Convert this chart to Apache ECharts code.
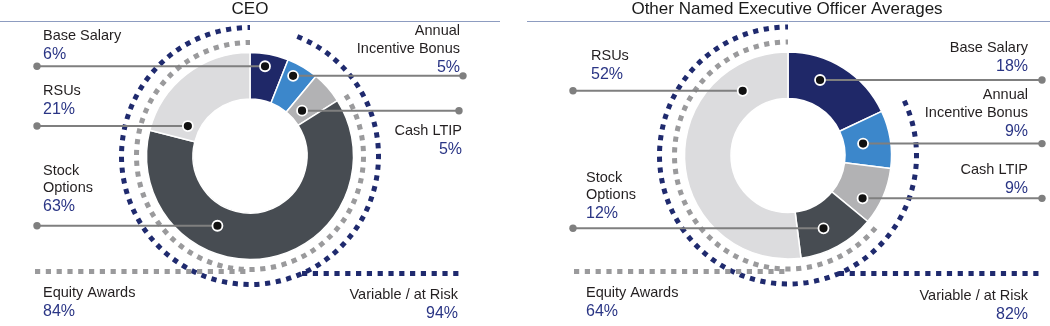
<!DOCTYPE html>
<html><head><meta charset="utf-8">
<script src="https://cdn.jsdelivr.net/npm/echarts@6/dist/echarts.min.js"></script>
<style>html,body{margin:0;padding:0;background:#fff}#c{width:1050px;height:326px}</style>
</head><body><div id="c"></div>
<script>
// ---------- DATA ----------
const panelTitles = ['CEO', 'Other Named Executive Officer Averages'];
const categories = ['Base Salary', 'Annual Incentive Bonus', 'Cash LTIP', 'Stock Options', 'RSUs'];
const categoryLabels = ['Base Salary', 'Annual\nIncentive Bonus', 'Cash LTIP', 'Stock\nOptions', 'RSUs'];
const ceoValues = [6, 5, 5, 63, 21];
const neoValues = [18, 9, 9, 12, 52];
const groupNames = ['Equity Awards', 'Variable / at Risk'];
const ceoGroupValues = [84, 94];
const neoGroupValues = [64, 82];

// ---------- STYLE / LAYOUT ----------
const sliceColors = ['#1f2868', '#3c87cb', '#b2b2b4', '#474c52', '#dcdcde'];
const NAME_COLOR = '#231f20', PCT_COLOR = '#2a3585';
const DASH_BLUE = '#1f2a6e', DASH_GRAY = '#9a9a9c', LINE_GRAY = '#7f7f7f';
const FONT = '"Liberation Sans", Arial, sans-serif';
const R_IN = 57, R_OUT = 103.5, R_GRAY = 113.5, R_BLUE = 128.5;
const NAME_STEP = 17.6, PCT_STEP = 18.6;
const DASH_W = 5, DASH = [5.2, 5.6];

const panels = [
  {
    values: ceoValues, groups: ceoGroupValues, title: panelTitles[0],
    cx: 250, cy: 156, titleX: 250, rule: [0, 500],
    grayStart: 35, grayY: 271.5, blueEnd: 461, blueY: 273.5,
    labels: [
      {side: 'L', frac: 0.44, r: 91, endX: 37, tx: 43, ty: 35.5},
      {side: 'R', frac: 0.37, r: 91, endX: 463, tx: 460, ty: 31},
      {side: 'R', frac: 0.52, r: 69, endX: 459, tx: 462, ty: 131},
      {side: 'L', frac: 0.65, r: 77, endX: 37, tx: 43, ty: 170.8},
      {side: 'L', frac: 0.15, r: 69, endX: 37, tx: 43, ty: 91.3}
    ],
    groupLabels: [
      {tx: 43, ty: 292.8, align: 'left'},
      {tx: 458, ty: 295.3, align: 'right'}
    ]
  },
  {
    values: neoValues, groups: neoGroupValues, title: panelTitles[1],
    cx: 788, cy: 155.5, titleX: 787, rule: [527, 1050],
    grayStart: 574, grayY: 271.5, blueEnd: 1043, blueY: 273.5,
    labels: [
      {side: 'R', frac: 0.355, r: 82, endX: 1042, tx: 1028, ty: 48.3},
      {side: 'R', frac: 0.5, r: 76, endX: 1042, tx: 1028, ty: 95.2},
      {side: 'R', frac: 0.70, r: 86, endX: 1042, tx: 1028, ty: 169.5},
      {side: 'L', frac: 0.565, r: 81, endX: 573, tx: 586, ty: 177.5},
      {side: 'L', frac: 0.813, r: 79, endX: 573, tx: 591, ty: 55.8}
    ],
    groupLabels: [
      {tx: 586, ty: 292.8, align: 'left'},
      {tx: 1028, ty: 295.5, align: 'right'}
    ]
  }
];

// ---------- BUILD ----------
const chart = echarts.init(document.getElementById('c'), null, {renderer: 'canvas'});
const series = [];
const graphics = [];

function txt(text, x, y, align, size, color, z) {
  graphics.push({
    type: 'text', x: x, y: y, z: z || 50, silent: true,
    style: {text: text, font: size + 'px ' + FONT, fill: color,
            align: align, verticalAlign: 'middle', textAlign: align, textVerticalAlign: 'middle'}
  });
}
function labelBlock(nameText, pct, x, y, align) {
  const lines = nameText.split('\n');
  lines.forEach((l, i) => txt(l, x, y + i * NAME_STEP, align, 14.5, NAME_COLOR));
  txt(pct + '%', x, y + (lines.length - 1) * NAME_STEP + PCT_STEP, align, 16, PCT_COLOR);
}
const toCanvas = deg => (deg - 90) * Math.PI / 180; // clock angle -> canvas radians

panels.forEach((p, pi) => {
  const total = p.values.reduce((a, b) => a + b, 0);
  series.push({
    type: 'pie', center: [p.cx, p.cy], radius: [R_IN, R_OUT],
    startAngle: 90, clockwise: true, silent: true, animation: false,
    label: {show: false}, labelLine: {show: false},
    itemStyle: {borderColor: '#fff', borderWidth: 1.5},
    emphasis: {disabled: true},
    data: p.values.map((v, i) => ({name: categories[i], value: v, itemStyle: {color: sliceColors[i]}}))
  });

  // title + rule
  txt(p.title, p.titleX, 9.5, 'center', 17, '#1a1a1a');
  graphics.push({type: 'line', z: 40, silent: true,
    shape: {x1: p.rule[0], y1: 21.5, x2: p.rule[1], y2: 21.5},
    style: {stroke: '#8d9cc0', lineWidth: 1}});

  // group arcs: both groups end at 12 o'clock (they cover the trailing slices)
  const eqStart = (total - p.groups[0]) / total * 360;
  const varStart = (total - p.groups[1]) / total * 360;
  graphics.push({type: 'arc', z: 30, silent: true,
    shape: {cx: p.cx, cy: p.cy, r: R_GRAY, startAngle: toCanvas(eqStart), endAngle: toCanvas(360), clockwise: true},
    style: {stroke: DASH_GRAY, fill: null, lineWidth: DASH_W, lineDash: DASH, lineCap: 'butt'}});
  graphics.push({type: 'arc', z: 30, silent: true,
    shape: {cx: p.cx, cy: p.cy, r: R_BLUE, startAngle: toCanvas(varStart), endAngle: toCanvas(360), clockwise: true},
    style: {stroke: DASH_BLUE, fill: null, lineWidth: DASH_W, lineDash: DASH, lineCap: 'butt'}});
  // horizontal group rules
  graphics.push({type: 'line', z: 31, silent: true,
    shape: {x1: p.grayStart, y1: p.grayY, x2: p.cx, y2: p.grayY},
    style: {stroke: DASH_GRAY, lineWidth: DASH_W, lineDash: DASH}});
  const bdy = p.blueY - p.cy;
  const bx = p.cx + Math.sqrt(Math.max(0, R_BLUE * R_BLUE - bdy * bdy));
  graphics.push({type: 'line', z: 31, silent: true,
    shape: {x1: bx, y1: p.blueY, x2: p.blueEnd, y2: p.blueY},
    style: {stroke: DASH_BLUE, lineWidth: DASH_W, lineDash: DASH}});

  // slice connectors
  let acc = 0;
  p.values.forEach((v, i) => {
    const a0 = acc / total * 360, a1 = (acc + v) / total * 360;
    acc += v;
    const L = p.labels[i];
    const ang = (a0 + L.frac * (a1 - a0)) * Math.PI / 180;
    const dx = p.cx + L.r * Math.sin(ang), dy = p.cy - L.r * Math.cos(ang);
    graphics.push({type: 'line', z: 60, silent: true,
      shape: {x1: L.endX, y1: dy, x2: dx, y2: dy},
      style: {stroke: LINE_GRAY, lineWidth: 2}});
    graphics.push({type: 'circle', z: 61, silent: true,
      shape: {cx: L.endX, cy: dy, r: 3.7}, style: {fill: LINE_GRAY}});
    graphics.push({type: 'circle', z: 62, silent: true,
      shape: {cx: dx, cy: dy, r: 5}, style: {fill: '#111', stroke: '#fff', lineWidth: 1.8}});
    labelBlock(categoryLabels[i], v, L.tx, L.ty, L.side === 'L' ? 'left' : 'right');
  });

  // group labels
  p.groupLabels.forEach((g, gi) => labelBlock(groupNames[gi], p.groups[gi], g.tx, g.ty, g.align));
});

chart.setOption({
  animation: false,
  series: series,
  graphic: {elements: graphics}
});
</script></body></html>
